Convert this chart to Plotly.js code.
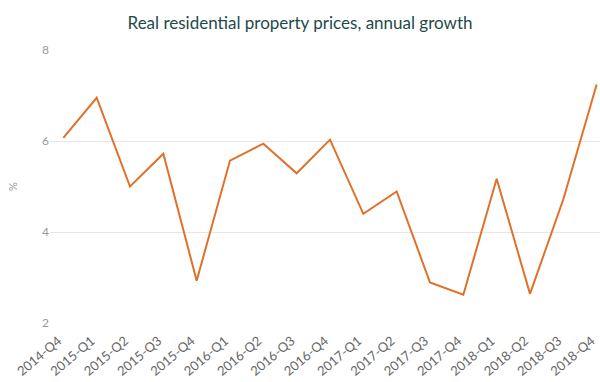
<!DOCTYPE html>
<html>
<head>
<meta charset="utf-8">
<script src="https://cdn.plot.ly/plotly-3.0.1.min.js"></script>
<style>html,body{margin:0;padding:0;background:#fff}#chart{width:600px;height:382px}</style>
</head>
<body>
<div id="chart"></div>
<script>
const quarters = ["2014-Q4","2015-Q1","2015-Q2","2015-Q3","2015-Q4","2016-Q1","2016-Q2","2016-Q3","2016-Q4","2017-Q1","2017-Q2","2017-Q3","2017-Q4","2018-Q1","2018-Q2","2018-Q3","2018-Q4"];
const growth = [6.07,6.95,5.00,5.72,2.93,5.57,5.94,5.29,6.03,4.40,4.89,2.89,2.62,5.17,2.64,4.72,7.24];
const yTicks = [2,4,6,8];
const titleText = "Real residential property prices, annual growth";
const yTitle = "%";

Plotly.newPlot("chart", [{
  x: quarters,
  y: growth,
  type: "scatter",
  mode: "lines",
  line: {color: "#e0712a", width: 2},
  hoverinfo: "x+y"
}], {
  width: 600, height: 382,
  margin: {l: 50, r: 0, t: 50, b: 59},
  paper_bgcolor: "#fff", plot_bgcolor: "#fff",
  font: {family: "Lato, sans-serif", color: "#777"},
  title: {text: titleText, x: 0.5, xanchor: "center", y: 0.94, yanchor: "middle",
          font: {family: "Lato, sans-serif", size: 17, color: "#1e4a4a"}},
  showlegend: false,
  xaxis: {
    type: "category",
    range: [-0.4, 16.1],
    showgrid: false, zeroline: false, showline: false,
    tickangle: -40, ticks: "",
    ticklabelshift: -5, ticklabelstandoff: 7,
    tickfont: {size: 13, color: "#666"},
    automargin: false
  },
  yaxis: {
    range: [2, 8],
    tickvals: yTicks,
    ticktext: yTicks.map(String),
    showgrid: true, gridcolor: "#e6e6e6", gridwidth: 1,
    zeroline: false, showline: false, ticks: "",
    tickfont: {size: 12, color: "#999"},
    title: {text: yTitle, font: {size: 11, color: "#999"}, standoff: 22},
    automargin: false
  }
}, {displayModeBar: false, staticPlot: true});
</script>
</body>
</html>
